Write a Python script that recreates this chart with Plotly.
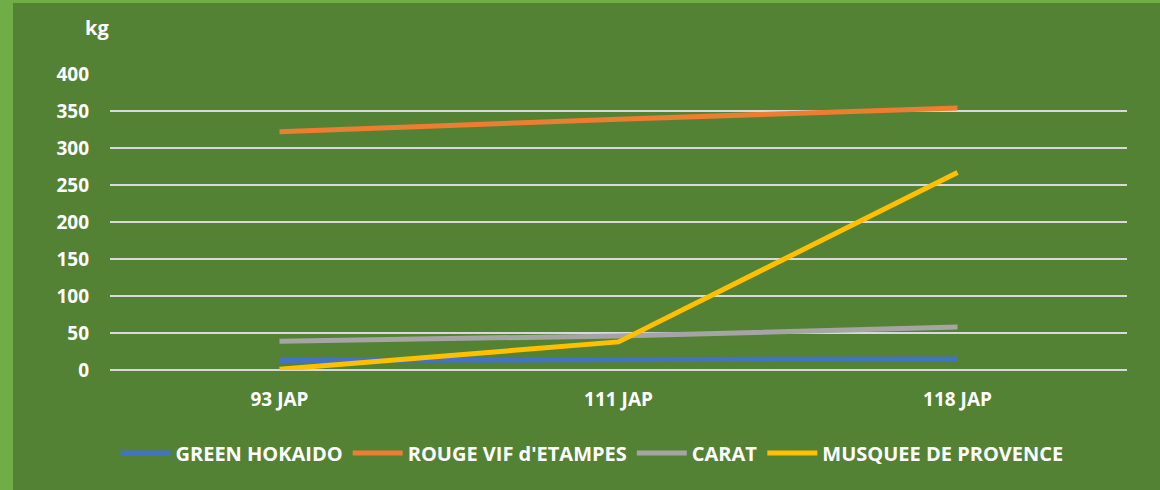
import plotly.graph_objects as go

categories = ["93 JAP", "111 JAP", "118 JAP"]
green_hokaido = [13, 14, 15]
rouge_vif = [322, 339, 354]
carat = [39, 46, 58]
musquee = [1, 38, 267]
y_ticks = [0, 50, 100, 150, 200, 250, 300, 350, 400]

series = [
    ("GREEN HOKAIDO", green_hokaido, "#4472C4"),
    ("ROUGE VIF d'ETAMPES", rouge_vif, "#ED7D31"),
    ("CARAT", carat, "#A5A5A5"),
    ("MUSQUEE DE PROVENCE", musquee, "#FFC000"),
]

fig = go.Figure()
for name, vals, col in series:
    fig.add_trace(go.Scatter(x=categories, y=vals, name=name, mode="lines",
                             line=dict(color=col, width=5)))

W, H = 1160, 490
L, R, T, B = 110, 33, 74, 120
pw = W - L - R
ph = H - T - B

def px_x(p):
    return (p - L) / pw

def px_y(p):
    return (H - B - p) / ph

FF = "Open Sans, Liberation Sans, sans-serif"
fig.update_layout(
    width=W, height=H,
    margin=dict(l=L, r=R, t=T, b=B),
    paper_bgcolor="#548235",
    plot_bgcolor="#548235",
    font=dict(family=FF, color="white", size=19),
    showlegend=True,
    legend=dict(orientation="h", x=px_x(592), xanchor="center", y=px_y(453), yanchor="middle",
                font=dict(family=FF, size=20, color="white", weight="bold"),
                bgcolor="rgba(0,0,0,0)", tracegroupgap=0, itemwidth=50),
    xaxis=dict(type="category", range=[-0.5, 2.5], showgrid=False, zeroline=False,
               showline=False, ticks="", ticklabelstandoff=16,
               tickfont=dict(family=FF, size=19, color="white", weight="bold")),
    yaxis=dict(range=[0, 400], tickvals=y_ticks, showgrid=True, gridcolor="#D9D9D9", gridwidth=1.5,
               zeroline=True, zerolinecolor="#D9D9D9", zerolinewidth=1.5, showline=False,
               ticks="", ticklabelstandoff=20,
               tickfont=dict(family=FF, size=19, color="white", weight="bold")),
    annotations=[dict(text="kg", xref="paper", yref="paper", x=px_x(97), y=px_y(27),
                      xanchor="center", yanchor="middle", showarrow=False,
                      font=dict(family=FF, size=20, color="white", weight="bold"))],
    shapes=[
        dict(type="rect", xref="paper", yref="paper", x0=px_x(0), x1=px_x(13), y0=px_y(H), y1=px_y(0),
             fillcolor="#70AD47", line=dict(width=0), layer="below"),
        dict(type="rect", xref="paper", yref="paper", x0=px_x(0), x1=px_x(W), y0=px_y(3), y1=px_y(0),
             fillcolor="#70AD47", line=dict(width=0), layer="below"),
    ],
)

fig.write_html("out.html", config={"displayModeBar": False},
               post_script="document.body.style.margin='0';")
